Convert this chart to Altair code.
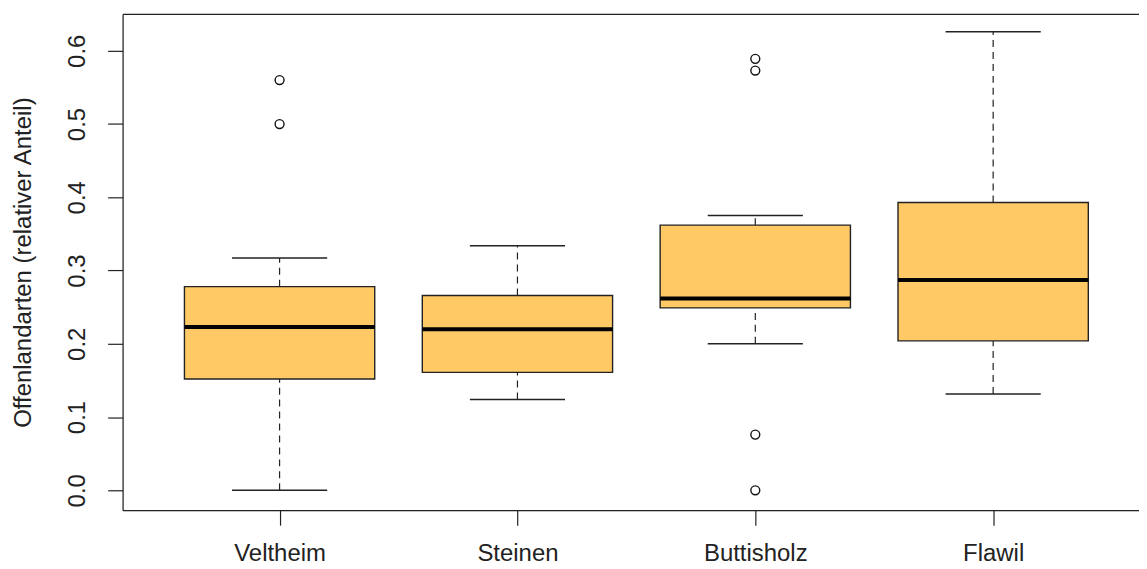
import json
import altair as alt
import pandas as pd

# ---- data ----
sites = ["Veltheim", "Steinen", "Buttisholz", "Flawil"]
whisker_low = [0.000, 0.124, 0.200, 0.1315]
q1 = [0.152, 0.161, 0.249, 0.204]
median = [0.223, 0.220, 0.262, 0.287]
q3 = [0.278, 0.266, 0.362, 0.393]
whisker_high = [0.317, 0.334, 0.375, 0.626]

outlier_site = ["Veltheim", "Veltheim", "Buttisholz", "Buttisholz", "Buttisholz", "Buttisholz"]
outlier_value = [0.560, 0.500, 0.589, 0.573, 0.076, 0.000]

y_ticks = [0.0, 0.1, 0.2, 0.3, 0.4, 0.5, 0.6]
y_title = "Offenlandarten (relativer Anteil)"

# ---- tables ----
stats = pd.DataFrame({
    "site": sites,
    "pos": list(range(1, len(sites) + 1)),
    "lo": whisker_low,
    "q1": q1,
    "med": median,
    "q3": q3,
    "hi": whisker_high,
})
outl = pd.DataFrame({
    "site": outlier_site,
    "pos": [sites.index(s) + 1 for s in outlier_site],
    "v": outlier_value,
})

FONT = "Liberation Sans"
FS = 24
TXT = "#222222"
LINE = "#222222"

px_per_unit = 238.7
W, H = 1020, 498
x_dom = [0.34, 0.34 + W / px_per_unit]
y_dom = [-0.0272, 0.6503]

xscale = alt.Scale(domain=x_dom, nice=False, zero=False)
yscale = alt.Scale(domain=y_dom, nice=False, zero=False)

label_expr = json.dumps(sites) + "[datum.value - 1]"

x_axis = alt.Axis(
    orient="bottom",
    values=list(range(1, len(sites) + 1)), labelExpr=label_expr, title=None,
    grid=False, tickSize=15, tickColor=LINE, domainColor=LINE, tickWidth=1.2,
    domainWidth=1.2, labelFont=FONT, labelFontSize=FS, labelColor=TXT,
    labelBaseline="alphabetic", labelPadding=35, labelAngle=0,
)
y_axis = alt.Axis(
    values=y_ticks, format=".1f", grid=False, tickSize=15, tickColor=LINE,
    domainColor=LINE, tickWidth=1.2, domainWidth=1.2,
    labelFont=FONT, labelFontSize=FS, labelColor=TXT, labelAngle=270,
    labelAlign="center", labelBaseline="alphabetic", labelPadding=23,
    title=y_title, titleFont=FONT, titleFontSize=FS, titleColor=TXT,
    titleFontWeight="normal", titleAngle=270, titleAlign="center",
    titleBaseline="alphabetic", titleX=-92, titleY=H / 2,
)
top_axis = alt.Axis(orient="top", labels=False, ticks=False, title=None,
                    grid=False, domainColor=LINE, domainWidth=1.2)

base = alt.Chart(stats).transform_calculate(
    xl="datum.pos - 0.4", xr="datum.pos + 0.4",
    sl="datum.pos - 0.2", sr="datum.pos + 0.2",
)

# frame (top line) via a top axis
frame = base.mark_point(opacity=0).encode(
    x=alt.X("pos:Q", scale=xscale, axis=top_axis),
    y=alt.Y("med:Q", scale=yscale, axis=y_axis),
)

whisk_up = base.mark_rule(color=LINE, strokeWidth=1.2, strokeDash=[7, 5]).encode(
    x=alt.X("pos:Q", scale=xscale, axis=x_axis),
    y=alt.Y("q3:Q", scale=yscale),
    y2="hi:Q",
)
whisk_dn = base.mark_rule(color=LINE, strokeWidth=1.2, strokeDash=[7, 5]).encode(
    x=alt.X("pos:Q", scale=xscale, axis=None),
    y=alt.Y("lo:Q", scale=yscale),
    y2="q1:Q",
)
staple_hi = base.mark_rule(color=LINE, strokeWidth=1.5).encode(
    x=alt.X("sl:Q", scale=xscale, axis=None), x2="sr:Q",
    y=alt.Y("hi:Q", scale=yscale),
)
staple_lo = base.mark_rule(color=LINE, strokeWidth=1.5).encode(
    x=alt.X("sl:Q", scale=xscale, axis=None), x2="sr:Q",
    y=alt.Y("lo:Q", scale=yscale),
)
boxes = base.mark_rect(fill="#FFC966", stroke=LINE, strokeWidth=1.4).encode(
    x=alt.X("xl:Q", scale=xscale, axis=None), x2="xr:Q",
    y=alt.Y("q1:Q", scale=yscale), y2="q3:Q",
)
meds = base.mark_rule(color="#000000", strokeWidth=4).encode(
    x=alt.X("xl:Q", scale=xscale, axis=None), x2="xr:Q",
    y=alt.Y("med:Q", scale=yscale),
)
points = alt.Chart(outl).mark_point(
    shape="circle", filled=False, stroke="#111111", strokeWidth=1.4, size=80, opacity=1
).encode(
    x=alt.X("pos:Q", scale=xscale, axis=None),
    y=alt.Y("v:Q", scale=yscale),
)

chart = alt.layer(
    frame, whisk_up, whisk_dn, staple_hi, staple_lo, boxes, meds, points
).resolve_axis(x="independent").properties(
    width=W, height=H,
    autosize=alt.AutoSizeParams(type="none"),
    padding={"left": 115, "top": 5, "right": 0, "bottom": 56},
).configure_view(stroke=None).configure(background="white")

chart.save("out.html", embed_options={"renderer": "svg", "actions": False})
